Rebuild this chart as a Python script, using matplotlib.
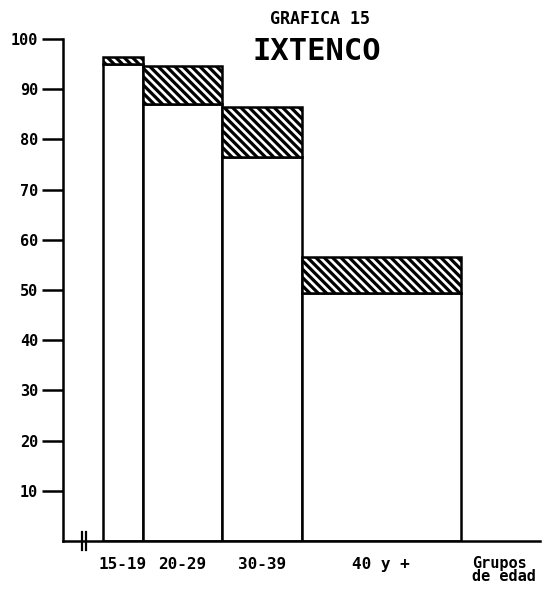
import matplotlib
matplotlib.use("Agg")
import matplotlib.pyplot as plt

# Data
edges = [15, 20, 30, 40, 60]
categories = ["15-19", "20-29", "30-39", "40 y +"]
lower_vals = [95.0, 87.0, 76.5, 49.5]
upper_vals = [96.5, 94.6, 86.5, 56.6]
yticks = [10, 20, 30, 40, 50, 60, 70, 80, 90, 100]

plt.rcParams['hatch.linewidth'] = 2.3
FONT = 'DejaVu Sans Mono'

fig = plt.figure(figsize=(5.5, 5.94), dpi=100)
ax = fig.add_axes([63/550, 1-541/594, (540-63)/550, (541-39)/594])

lefts = edges[:-1]
widths = [edges[i+1] - edges[i] for i in range(len(lefts))]
centers = [l + w/2 for l, w in zip(lefts, widths)]

ax.bar(lefts, lower_vals, width=widths, align='edge', color='white',
       edgecolor='black', linewidth=1.8, zorder=2)
tops = [u - l for u, l in zip(upper_vals, lower_vals)]
ax.bar(lefts, tops, bottom=lower_vals, width=widths, align='edge', color='white',
       edgecolor='black', hatch='\\\\\\\\', linewidth=1.8, zorder=2)

ax.set_xlim(10, 70)
ax.set_ylim(0, 100)
for s in ['top', 'right']:
    ax.spines[s].set_visible(False)
ax.spines['left'].set_linewidth(1.8)
ax.spines['bottom'].set_linewidth(1.8)

ax.set_yticks(yticks)
ax.set_yticklabels([str(v) for v in yticks], fontfamily=FONT, fontweight='bold', fontsize=11)
ax.tick_params(axis='y', direction='out', length=15, width=1.8, pad=3)
ax.set_xticks([])

# category labels
for c, lab in zip(centers, categories):
    ax.text(c, -0.047, lab, transform=ax.get_xaxis_transform(), ha='center', va='center',
            fontfamily=FONT, fontweight='bold', fontsize=11.5)

# axis break marks
for xb in [12.4, 12.9]:
    ax.plot([xb, xb], [-0.018, 0.018], transform=ax.get_xaxis_transform(), color='black',
            lw=1.6, clip_on=False)

fig.text(472/550, 1-570/594, "Grupos\nde edad", ha='left', va='center',
         fontfamily=FONT, fontweight='bold', fontsize=11, linespacing=0.9)

fig.text(320/550, 1-19/594, "GRAFICA 15", ha='center', va='center',
         fontfamily=FONT, fontweight='bold', fontsize=12)
fig.text(317/550, 1-52/594, "IXTENCO", ha='center', va='center',
         fontfamily=FONT, fontweight='bold', fontsize=22)

fig.savefig("out.png", dpi=100)
